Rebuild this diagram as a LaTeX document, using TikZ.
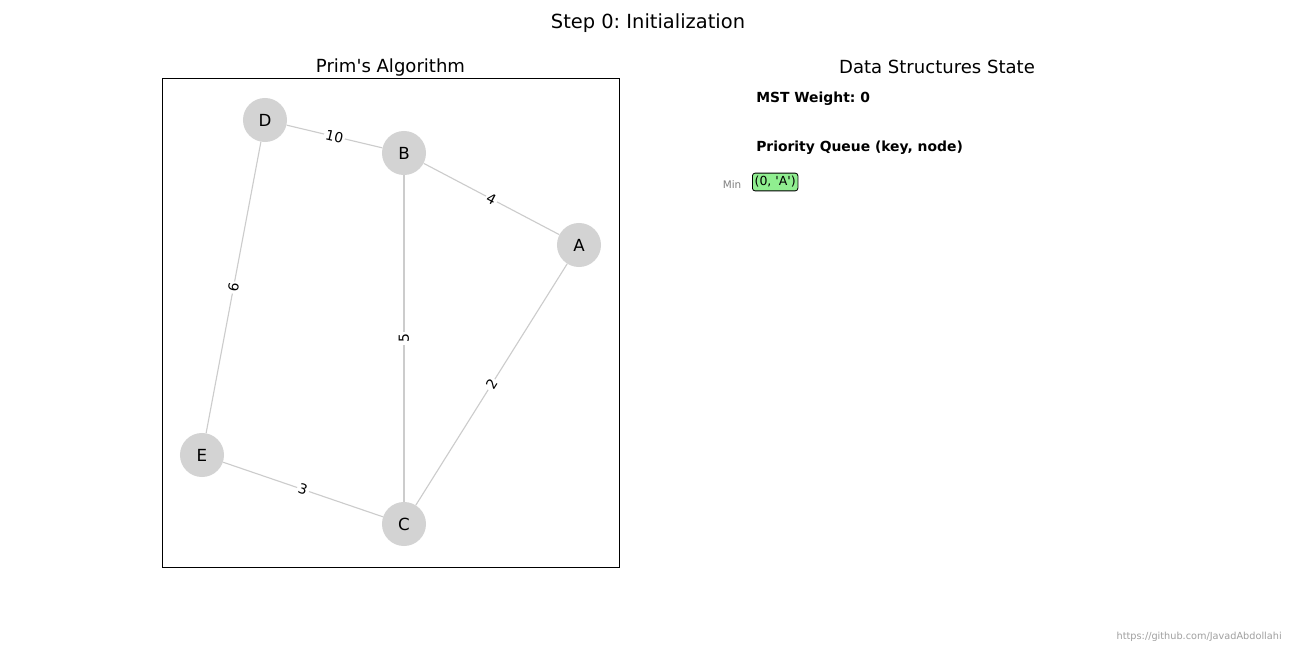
\documentclass[tikz,border=0pt]{standalone}
\usepackage{fontspec}
\setmainfont{DejaVu Sans}
\frenchspacing
\definecolor{nodegray}{HTML}{D3D3D3}
\definecolor{edgegray}{HTML}{CCCCCC}
\definecolor{pqgreen}{HTML}{90EE90}
\definecolor{mingray}{HTML}{808080}
\definecolor{urlgray}{HTML}{A0A0A0}
\begin{document}
\begin{tikzpicture}[x=0.72pt,y=-0.72pt,
  gnode/.style={circle,fill=nodegray,draw=none,minimum size=31.7pt,inner sep=0pt,font=\fontsize{12}{14}\selectfont},
  edge/.style={draw=edgegray,line width=0.8pt},
  elab/.style={fill=white,inner sep=1.2pt,font=\fontsize{10}{12}\selectfont},
  subtitle/.style={font=\fontsize{13}{15}\selectfont},
  boldtxt/.style={font=\fontsize{10}{12}\selectfont\bfseries,anchor=west,inner sep=0pt}
]
\useasboundingbox (0,0) rectangle (1296,648);
\fill[white] (0,0) rectangle (1296,648);
% titles
\node[font=\fontsize{14}{17}\selectfont] (title) at (648,23) {Step 0: Initialization};
\node[subtitle] (lt) at (390.5,68) {Prim\textquotesingle s Algorithm};
\node[subtitle] (rt) at (937,67) {Data Structures State};
% axes frame
\draw[line width=0.6pt] (162,78) rectangle (619,567);
% nodes
\node[gnode] (D) at (265,120) {D};
\node[gnode] (B) at (404,153) {B};
\node[gnode] (A) at (579,245) {A};
\node[gnode] (E) at (202,455) {E};
\node[gnode] (C) at (404,524) {C};
% edges
\draw[edge] (D) -- (B) node[midway,elab,rotate=-13.4] {10};
\draw[edge] (B) -- (A) node[midway,elab,rotate=-27.7] {4};
\draw[edge] (B) -- (C) node[midway,elab,rotate=90] {5};
\draw[edge] (A) -- (C) node[midway,elab,rotate=58] {2};
\draw[edge] (D) -- (E) node[midway,elab,rotate=79.4] {6};
\draw[edge] (E) -- (C) node[midway,elab,rotate=-18.9] {3};
% right panel
\node[boldtxt] (mst) at (756,98.5) {MST Weight: 0};
\node[boldtxt] (pq) at (756,147.5) {Priority Queue (key, node)};
\node[font=\fontsize{7.5}{9}\selectfont,text=mingray] (min) at (732,185) {Min};
\node[draw=black,fill=pqgreen,rounded corners=2pt,line width=0.6pt,inner xsep=1.6pt,inner ysep=2.4pt,anchor=west,font=\fontsize{9}{11}\selectfont] (pq0) at (752,182) {(0, \textquotesingle A\textquotesingle)};
% url
\node[font=\fontsize{7}{9}\selectfont,text=urlgray,anchor=east,inner sep=0pt] (url) at (1282,637) {https://github.com/JavadAbdollahi};
\end{tikzpicture}
\end{document}
